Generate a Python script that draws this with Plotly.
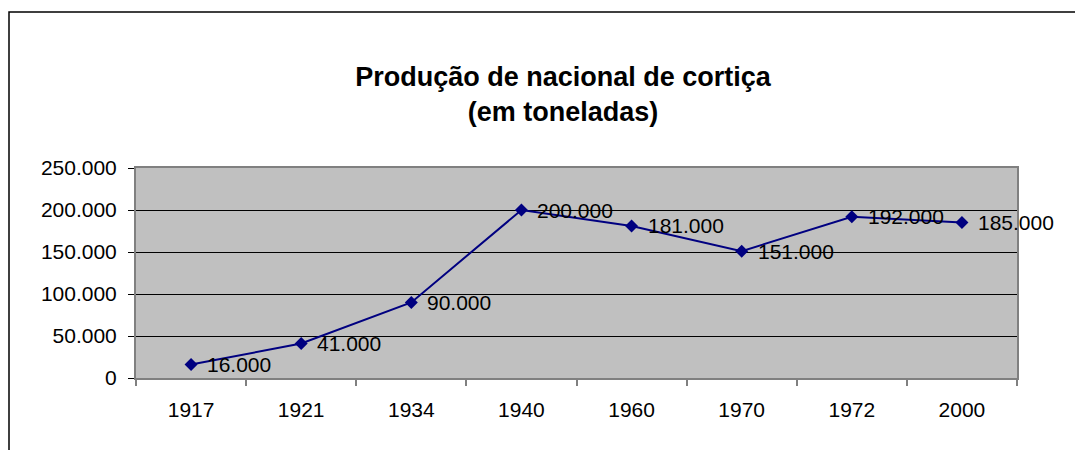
import plotly.graph_objects as go

years = ["1917", "1921", "1934", "1940", "1960", "1970", "1972", "2000"]
production = [16000, 41000, 90000, 200000, 181000, 151000, 192000, 185000]
labels = ["16.000", "41.000", "90.000", "200.000", "181.000", "151.000", "192.000", "185.000"]

OFF = 8  # page body margin
W, H = 1083, 450
L, T = 136 - OFF, 168 - OFF
R = W - (1017 - OFF)
B = H - (378 - OFF)
pw, ph = W - L - R, H - T - B

def px_x(x):
    return (x - OFF - L) / pw

def px_y(y):
    return (H - B - (y - OFF)) / ph

fig = go.Figure()
fig.add_trace(go.Scatter(
    x=years, y=production, mode="lines+markers",
    line=dict(color="#000080", width=2),
    marker=dict(symbol="diamond", size=10, color="#000080"),
    cliponaxis=False,
))

annotations = [
    dict(x=i, y=v, text=t, xref="x", yref="y", showarrow=False,
         xanchor="left", yanchor="middle", xshift=14,
         font=dict(family="Liberation Sans, Arial", size=21, color="black"))
    for i, (v, t) in enumerate(zip(production, labels))
]

fig.update_layout(
    width=W, height=H,
    margin=dict(l=L, r=R, t=T, b=B, autoexpand=False),
    paper_bgcolor="white", plot_bgcolor="#C0C0C0",
    separators=",.",
    showlegend=False,
    font=dict(family="Liberation Sans, Arial", size=21, color="black"),
    title=dict(
        text="<b>Produção de nacional de cortiça<br>(em toneladas)</b>",
        x=(563 - OFF) / W, xanchor="center", xref="container",
        y=1 - (86 - OFF) / H, yanchor="top", yref="container",
        font=dict(family="Liberation Sans, Arial", size=27, color="black"),
    ),
    xaxis=dict(
        type="category", range=[-0.5, 7.5], tickson="boundaries",
        ticks="outside", ticklen=6, tickcolor="#808080", tickwidth=2,
        showgrid=False, showline=True, linecolor="#808080", linewidth=2,
        mirror=True, ticklabelstandoff=12,
        tickfont=dict(size=21),
    ),
    yaxis=dict(
        range=[0, 250000], tickvals=[0, 50000, 100000, 150000, 200000, 250000],
        tickformat=",d",
        ticks="outside", ticklen=6, tickcolor="black", tickwidth=1,
        showgrid=True, gridcolor="black", gridwidth=1,
        showline=True, linecolor="#808080", linewidth=2, mirror=True,
        zeroline=False, ticklabelstandoff=7,
        tickfont=dict(size=21),
    ),
    annotations=annotations,
    shapes=[dict(
        type="rect", xref="paper", yref="paper",
        x0=px_x(9), x1=px_x(1300), y0=px_y(600), y1=px_y(12),
        line=dict(color="black", width=1.5), fillcolor="rgba(0,0,0,0)",
        layer="below",
    )],
)

fig.write_html("out.html")
